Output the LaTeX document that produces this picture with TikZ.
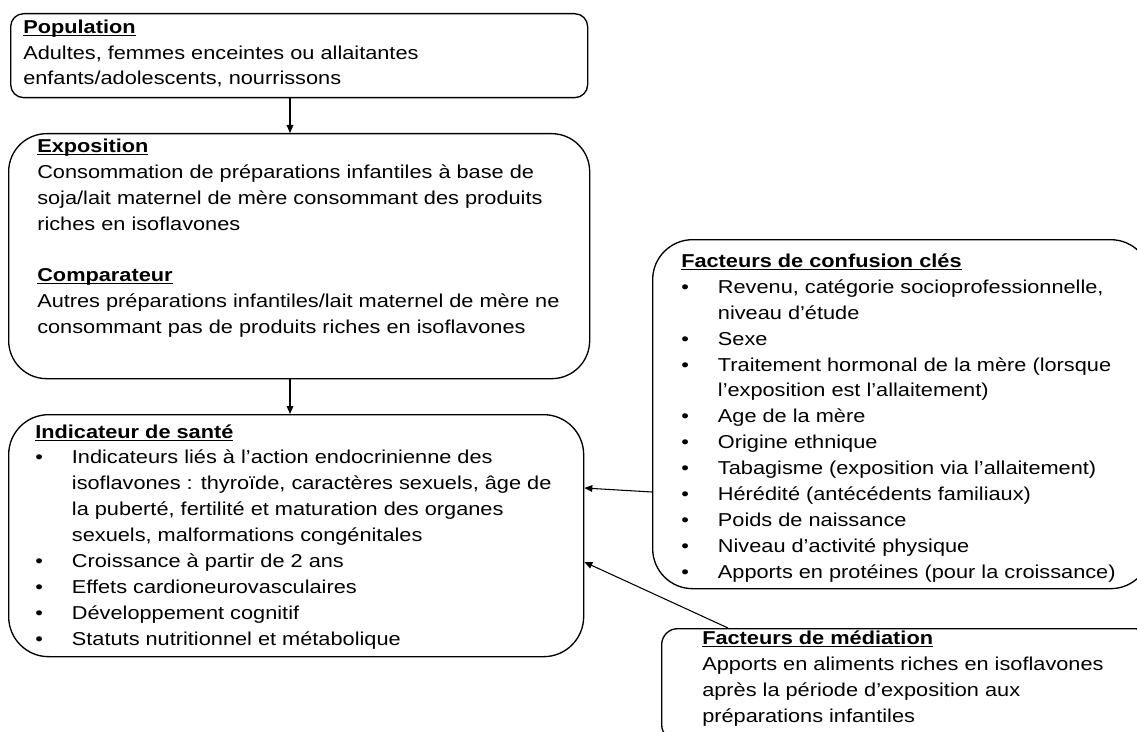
\documentclass[tikz,border=0pt]{standalone}
\usepackage{fontspec}
\setmainfont{Liberation Sans}[FakeStretch=1.165]
\usetikzlibrary{arrows.meta, positioning}

% titre souligne
\newcommand{\rubrique}[1]{\setbox0\hbox{\bfseries #1}\rlap{\rule[-2pt]{\wd0}{0.9pt}}\box0}
\newcommand{\puce}{\makebox[27.5pt][l]{•}}
\newcommand{\suite}{\hspace*{27.5pt}}

\tikzset{
  cadre/.style={draw, line width=1pt, anchor=north west, inner sep=0pt},
  % ancre sur la ligne de base de la derniere ligne
  texte/.style={anchor=base west, align=left, inner sep=0pt},
  fleche/.style={-{Triangle[length=6pt,width=5pt]}, line width=0.8pt}
}

\begin{document}
\begin{tikzpicture}[x=0.75pt, y=-0.75pt, font=\fontsize{14}{19.4}\selectfont]
  \useasboundingbox (0,0) rectangle (1137,731);
  \clip (0,0) rectangle (1137,731);

  % cadres
  \node[cadre, rounded corners=9.75pt, minimum width=432.75pt, minimum height=63pt] (pop) at (10,13) {};
  \node[cadre, rounded corners=28.5pt, minimum width=435.75pt, minimum height=183.75pt] (expo) at (8,133) {};
  \node[cadre, rounded corners=30pt, minimum width=431.25pt, minimum height=181.5pt] (indic) at (8,414) {};
  \node[cadre, rounded corners=30pt, minimum width=373.5pt, minimum height=261.75pt] (conf) at (652,239) {};
  \node[cadre, rounded corners=12pt, minimum width=366.75pt, minimum height=84pt] (med) at (661,628) {};

  % textes
  \node[texte] (poptxt) at (23,85) {\rubrique{Population}\\
    Adultes, femmes enceintes ou allaitantes\\
    enfants/adolescents, nourrissons};
  \node[texte] (expotxt) at (37,230) {\rubrique{Exposition}\\
    Consommation de préparations infantiles à base de\\
    soja/lait maternel de mère consommant des produits\\
    riches en isoflavones};
  \node[texte] (comptxt) at (37,333) {\rubrique{Comparateur}\\
    Autres préparations infantiles/lait maternel de mère ne\\
    consommant pas de produits riches en isoflavones};
  \node[texte] (indictxt) at (35,645) {\rubrique{Indicateur de santé}\\
    \puce Indicateurs liés à l’action endocrinienne des\\
    \suite isoflavones : thyroïde, caractères sexuels, âge de\\
    \suite la puberté, fertilité et maturation des organes\\
    \suite sexuels, malformations congénitales\\
    \puce Croissance à partir de 2 ans\\
    \puce Effets cardioneurovasculaires\\
    \puce Développement cognitif\\
    \puce Statuts nutritionnel et métabolique};
  \node[texte] (conftxt) at (681,578) {\rubrique{Facteurs de confusion clés}\\
    \puce Revenu, catégorie socioprofessionnelle,\\
    \suite niveau d’étude\\
    \puce Sexe\\
    \puce Traitement hormonal de la mère (lorsque\\
    \suite l’exposition est l’allaitement)\\
    \puce Age de la mère\\
    \puce Origine ethnique\\
    \puce Tabagisme (exposition via l’allaitement)\\
    \puce Hérédité (antécédents familiaux)\\
    \puce Poids de naissance\\
    \puce Niveau d’activité physique\\
    \puce Apports en protéines (pour la croissance)};
  \node[texte] (medtxt) at (702,722) {\rubrique{Facteurs de médiation}\\
    Apports en aliments riches en isoflavones\\
    après la période d’exposition aux\\
    préparations infantiles};

  % fleches
  \coordinate (axe) at (290,0);
  \coordinate (hconf) at (0,492);
  \coordinate (hind) at (0,488);
  \coordinate (xmed) at (728,0);
  \coordinate (hmed) at (0,562);
  \draw[fleche] (pop.south -| axe) -- (expo.north -| axe);
  \draw[fleche] (expo.south -| axe) -- (indic.north -| axe);
  \draw[fleche] (conf.west |- hconf) -- (indic.east |- hind);
  \draw[fleche] (med.north -| xmed) -- (indic.east |- hmed);
\end{tikzpicture}
\end{document}
